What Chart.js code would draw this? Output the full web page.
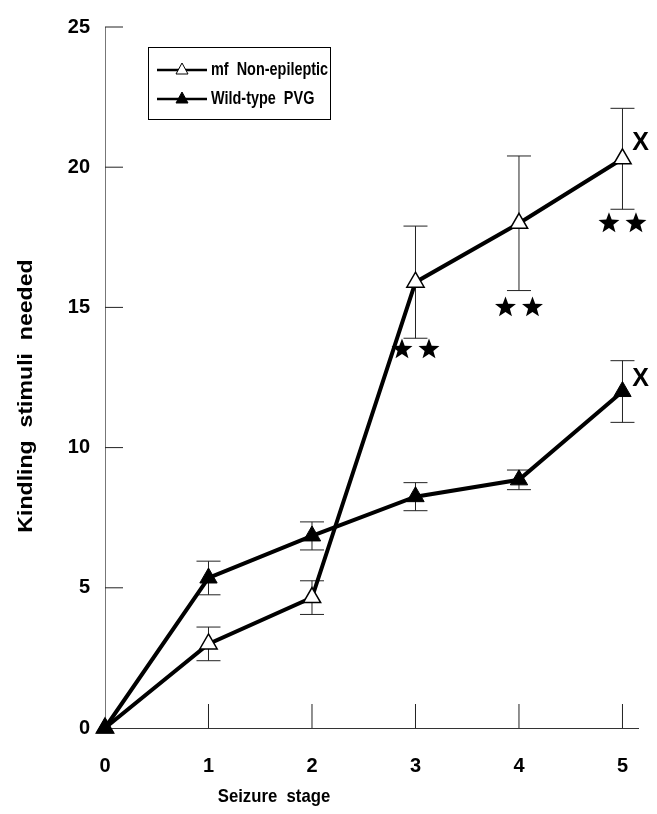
<!DOCTYPE html>
<html>
<head>
<meta charset="utf-8">
<script src="https://cdn.jsdelivr.net/npm/chart.js@4.4.0/dist/chart.umd.min.js"></script>
<style>
    html, body { margin: 0; padding: 0; background: #fff; }
    canvas { display: block; }
</style>
</head>
<body>
<canvas id="kindlingChart" width="657" height="814"></canvas>
<script>
// seizure stages on the x axis
const stages = [0, 1, 2, 3, 4, 5];
const xTicks = [0, 1, 2, 3, 4, 5];
const yTicks = [0, 5, 10, 15, 20, 25];

// mean kindling stimuli needed, with error bars
const nonEpileptic = [0, 3.0, 4.65, 15.9, 18.0, 20.3];
const nonEpilepticErr = [0, 0.6, 0.6, 2.0, 2.4, 1.8];
const wildType = [0, 5.35, 6.85, 8.25, 8.85, 12.0];
const wildTypeErr = [0, 0.6, 0.5, 0.5, 0.35, 1.1];

// significance marks
const starStages = [3, 4, 5];
const starValues = [13.5, 15.0, 18.0];
const xMarkValues = [20.85, 12.45];

const FONT = '"Liberation Sans", Arial, sans-serif';

function squeezedText(ctx, text, x, y, size, sx, align) {
    ctx.save();
    ctx.font = 'bold ' + size + 'px ' + FONT;
    ctx.textBaseline = 'middle';
    ctx.translate(x, y);
    ctx.scale(sx, 1);
    const w = ctx.measureText(text).width;
    let x0 = 0;
    if (align === 'center') x0 = -w / 2;
    ctx.fillStyle = '#000';
    ctx.fillText(text, x0, 0);
    ctx.restore();
}

function drawStar(ctx, cx, cy, r) {
    const inner = r * 0.42;
    ctx.beginPath();
    for (let i = 0; i < 10; i++) {
        const rad = i % 2 === 0 ? r : inner;
        const a = -Math.PI / 2 + i * Math.PI / 5;
        const px = cx + rad * Math.cos(a);
        const py = cy + rad * Math.sin(a);
        if (i === 0) ctx.moveTo(px, py); else ctx.lineTo(px, py);
    }
    ctx.closePath();
    ctx.fill();
}

const errorBars = {
    id: 'errorBars',
    beforeDatasetsDraw(chart) {
        const ctx = chart.ctx;
        const xs = chart.scales.x, ys = chart.scales.y;
        const sets = [[nonEpileptic, nonEpilepticErr], [wildType, wildTypeErr]];
        ctx.save();
        ctx.strokeStyle = '#222';
        ctx.lineWidth = 1;
        sets.forEach(([vals, errs]) => {
            vals.forEach((v, i) => {
                if (!errs[i]) return;
                const x = xs.getPixelForValue(stages[i]);
                const yt = ys.getPixelForValue(v + errs[i]);
                const yb = ys.getPixelForValue(v - errs[i]);
                ctx.beginPath();
                ctx.moveTo(x, yt); ctx.lineTo(x, yb);
                ctx.moveTo(x - 12, yt); ctx.lineTo(x + 12, yt);
                ctx.moveTo(x - 12, yb); ctx.lineTo(x + 12, yb);
                ctx.stroke();
            });
        });
        ctx.restore();
    },
    afterDraw(chart) {
        const ctx = chart.ctx;
        const xs = chart.scales.x, ys = chart.scales.y;
        const area = chart.chartArea;
        ctx.save();
        // inward tick marks
        ctx.strokeStyle = '#222';
        ctx.lineWidth = 1;
        yTicks.forEach(v => {
            if (v === 0) return;
            const y = ys.getPixelForValue(v);
            ctx.beginPath();
            ctx.moveTo(area.left, y); ctx.lineTo(area.left + 18, y);
            ctx.stroke();
        });
        xTicks.forEach(v => {
            if (v === 0) return;
            const x = xs.getPixelForValue(v);
            ctx.beginPath();
            ctx.moveTo(x, area.bottom); ctx.lineTo(x, area.bottom - 24);
            ctx.stroke();
        });

        // stars
        ctx.fillStyle = '#000';
        starStages.forEach((s, i) => {
            const x = xs.getPixelForValue(s);
            const y = ys.getPixelForValue(starValues[i]);
            drawStar(ctx, x - 13.5, y, 11);
            drawStar(ctx, x + 13.5, y, 11);
        });

        // X marks at stage 5
        xMarkValues.forEach(v => {
            const x = xs.getPixelForValue(5) + 18;
            const y = ys.getPixelForValue(v);
            squeezedText(ctx, 'X', x, y, 25, 1, 'center');
        });

        // axis titles
        ctx.save();
        ctx.translate(26, 396);
        ctx.rotate(-Math.PI / 2);
        squeezedText(ctx, 'Kindling  stimuli  needed', 0, 0, 21, 1.1, 'center');
        ctx.restore();
        squeezedText(ctx, 'Seizure  stage', 274, 797, 19, 0.88, 'center');

        // legend
        ctx.strokeStyle = '#000';
        ctx.lineWidth = 1;
        ctx.strokeRect(148.5, 47.5, 182, 72);
        const rows = [
            { y: 70, label: 'mf  Non-epileptic', fill: '#fff' },
            { y: 99, label: 'Wild-type  PVG', fill: '#000' }
        ];
        rows.forEach(r => {
            ctx.lineWidth = 2.5;
            ctx.beginPath();
            ctx.moveTo(157, r.y); ctx.lineTo(207, r.y);
            ctx.stroke();
            ctx.lineWidth = 1;
            ctx.fillStyle = r.fill;
            ctx.beginPath();
            ctx.moveTo(182, r.y - 7);
            ctx.lineTo(188, r.y + 4);
            ctx.lineTo(176, r.y + 4);
            ctx.closePath();
            ctx.fill();
            ctx.stroke();
            squeezedText(ctx, r.label, 211, r.y, 19, 0.76, 'left');
        });
        ctx.restore();
    }
};

const tickFont = { family: FONT, size: 20, weight: 'bold' };

new Chart(document.getElementById('kindlingChart'), {
    type: 'line',
    data: {
        datasets: [
            {
                label: 'Wild-type PVG',
                data: stages.map((s, i) => ({ x: s, y: wildType[i] })),
                borderColor: '#000',
                borderWidth: 4,
                tension: 0,
                pointStyle: 'triangle',
                pointRadius: 10,
                pointBackgroundColor: '#000',
                pointBorderColor: '#000',
                pointBorderWidth: 1,
                clip: false
            },
            {
                label: 'mf Non-epileptic',
                data: stages.map((s, i) => ({ x: s, y: nonEpileptic[i] })),
                borderColor: '#000',
                borderWidth: 4,
                tension: 0,
                pointStyle: 'triangle',
                pointRadius: 10,
                pointBackgroundColor: '#fff',
                pointBorderColor: '#000',
                pointBorderWidth: 1.5,
                clip: false
            }
        ]
    },
    options: {
        responsive: false,
        animation: false,
        layout: { padding: { left: 0, top: 17, right: 19, bottom: 0 } },
        plugins: {
            legend: { display: false },
            tooltip: { enabled: false }
        },
        scales: {
            x: {
                type: 'linear',
                min: 0,
                max: 5.15,
                afterBuildTicks: s => { s.ticks = xTicks.map(v => ({ value: v })); },
                afterFit: s => { s.height = 86; },
                ticks: { color: '#000', font: tickFont, padding: 26, maxRotation: 0 },
                grid: { display: false, drawTicks: false },
                border: { display: true, color: '#333', width: 1 }
            },
            y: {
                min: 0,
                max: 25,
                afterBuildTicks: s => { s.ticks = yTicks.map(v => ({ value: v })); },
                afterFit: s => { s.width = 105; },
                ticks: { color: '#000', font: tickFont, padding: 15 },
                grid: { display: false, drawTicks: false },
                border: { display: true, color: '#777', width: 1, dash: [2, 2] }
            }
        }
    },
    plugins: [errorBars]
});
</script>
</body>
</html>
